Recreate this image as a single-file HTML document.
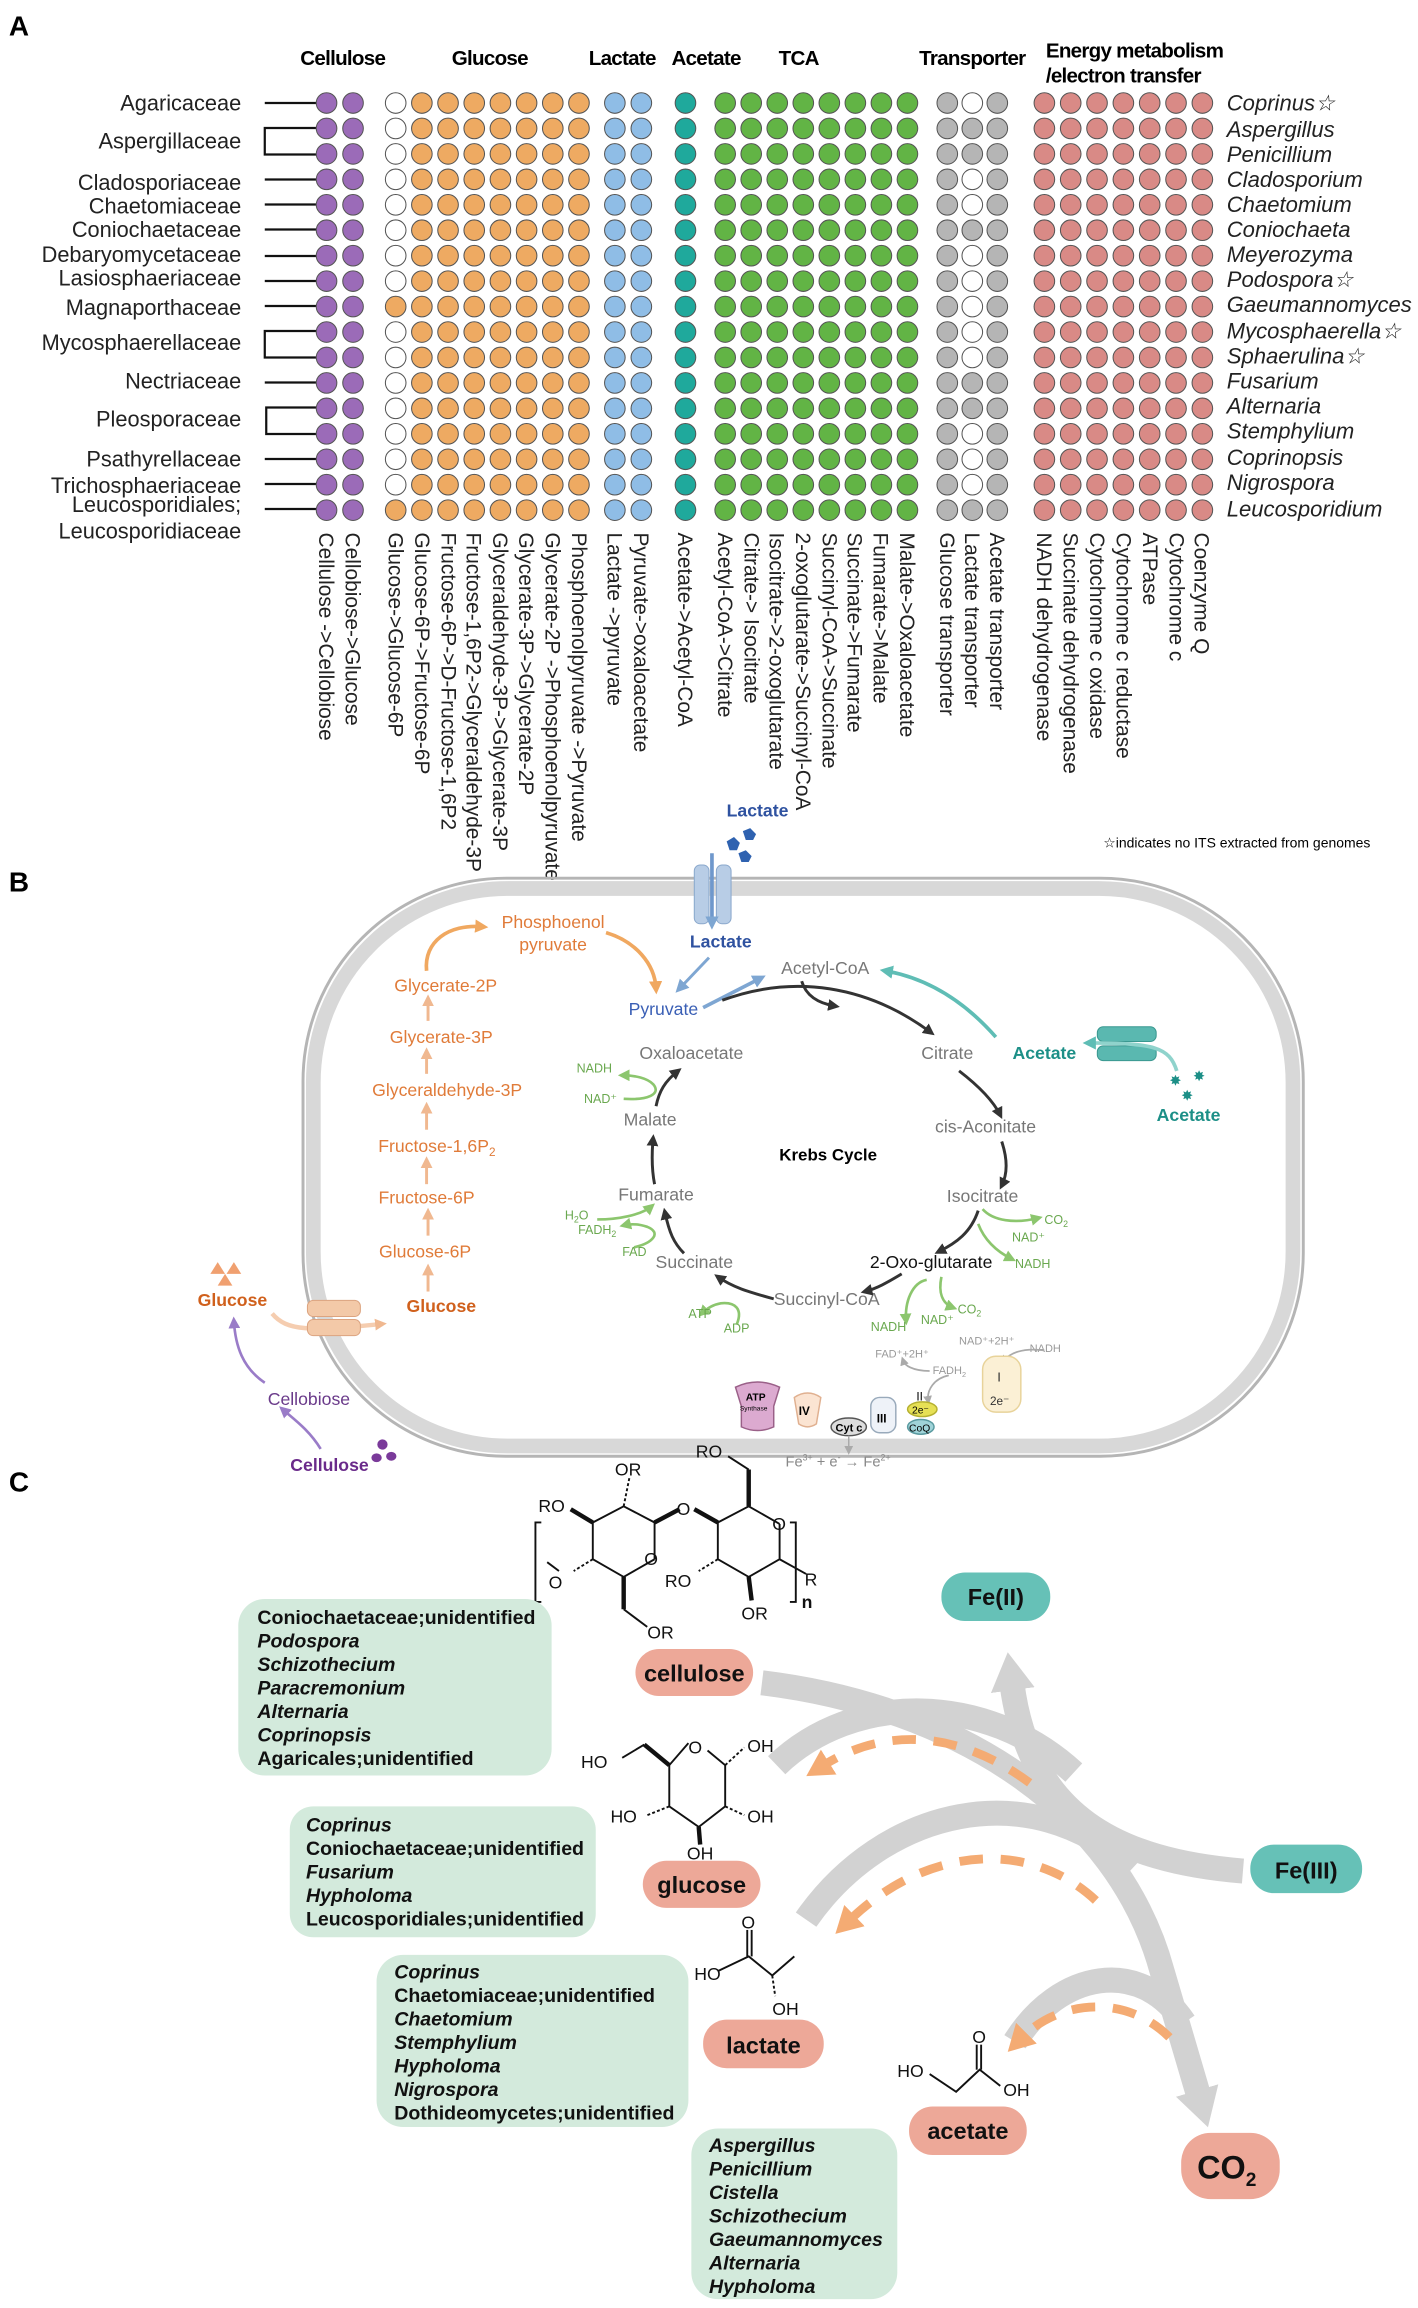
<!DOCTYPE html>
<html><head><meta charset="utf-8"><style>
html,body{margin:0;padding:0;background:#fff}
svg{display:block}
text{font-family:"Liberation Sans",Arial,sans-serif}
</style></head><body>
<svg width="1418" height="2308" viewBox="0 0 964 1569" xmlns="http://www.w3.org/2000/svg">
<defs>
<marker id="ad" markerWidth="8" markerHeight="8" refX="5" refY="4" orient="auto" markerUnits="userSpaceOnUse"><path d="M0,0 L8,4 L0,8 Z" fill="#333"/></marker>
<marker id="ag" markerWidth="8" markerHeight="8" refX="5" refY="4" orient="auto" markerUnits="userSpaceOnUse"><path d="M0,0 L8,4 L0,8 Z" fill="#8cc66e"/></marker>
<marker id="ao" markerWidth="9" markerHeight="9" refX="5" refY="4.5" orient="auto" markerUnits="userSpaceOnUse"><path d="M0,0 L9,4.5 L0,9 Z" fill="#f0a860"/></marker>
<marker id="al" markerWidth="8" markerHeight="8" refX="5" refY="4" orient="auto" markerUnits="userSpaceOnUse"><path d="M0,0 L8,4 L0,8 Z" fill="#f0b890"/></marker>
<marker id="ab" markerWidth="9" markerHeight="9" refX="5" refY="4.5" orient="auto" markerUnits="userSpaceOnUse"><path d="M0,0 L9,4.5 L0,9 Z" fill="#7ea6d2"/></marker>
<marker id="at" markerWidth="9" markerHeight="9" refX="5" refY="4.5" orient="auto" markerUnits="userSpaceOnUse"><path d="M0,0 L9,4.5 L0,9 Z" fill="#5fbdb5"/></marker>
<marker id="ap" markerWidth="8" markerHeight="8" refX="5" refY="4" orient="auto" markerUnits="userSpaceOnUse"><path d="M0,0 L8,4 L0,8 Z" fill="#9a7cc8"/></marker>
<marker id="ay" markerWidth="6" markerHeight="6" refX="3" refY="3" orient="auto" markerUnits="userSpaceOnUse"><path d="M0,0 L6,3 L0,6 Z" fill="#aaa"/></marker>
<marker id="aG" markerWidth="30" markerHeight="30" refX="4" refY="15" orient="auto" markerUnits="userSpaceOnUse"><path d="M0,0 L26,15 L0,30 Z" fill="#d2d2d2"/></marker>
<marker id="aO" markerWidth="20" markerHeight="20" refX="4" refY="10" orient="auto" markerUnits="userSpaceOnUse"><path d="M0,0 L18,10 L0,20 Z" fill="#f4ab73"/></marker>
</defs>

<!-- PANEL A -->
<text x="6" y="24" font-size="19" font-weight="bold">A</text>
<g font-size="14" font-weight="bold" text-anchor="middle" letter-spacing="-0.5">
<text x="233" y="44">Cellulose</text><text x="333" y="44">Glucose</text><text x="423" y="44">Lactate</text><text x="480" y="44">Acetate</text><text x="543" y="44">TCA</text><text x="661" y="44">Transporter</text>
<text x="711" y="39" text-anchor="start">Energy metabolism</text><text x="711" y="56" text-anchor="start">/electron transfer</text>
</g>
<g font-size="14.8" text-anchor="end" fill="#222">
<text x="164" y="75">Agaricaceae</text>
<text x="164" y="101">Aspergillaceae</text>
<text x="164" y="129">Cladosporiaceae</text>
<text x="164" y="145">Chaetomiaceae</text>
<text x="164" y="161">Coniochaetaceae</text>
<text x="164" y="178">Debaryomycetaceae</text>
<text x="164" y="194">Lasiosphaeriaceae</text>
<text x="164" y="214">Magnaporthaceae</text>
<text x="164" y="238">Mycosphaerellaceae</text>
<text x="164" y="264">Nectriaceae</text>
<text x="164" y="290">Pleosporaceae</text>
<text x="164" y="317">Psathyrellaceae</text>
<text x="164" y="335">Trichosphaeriaceae</text>
<text x="164" y="348">Leucosporidiales;</text>
<text x="164" y="366">Leucosporidiaceae</text>
</g>
<g stroke="#111" stroke-width="1.5" fill="none">
<line x1="180" y1="70" x2="215" y2="70"/>
<path d="M215,87 H180 V105 H215"/>
<line x1="180" y1="122" x2="215" y2="122"/><line x1="180" y1="139" x2="215" y2="139"/><line x1="180" y1="156" x2="215" y2="156"/><line x1="180" y1="174" x2="215" y2="174"/><line x1="180" y1="191" x2="215" y2="191"/><line x1="180" y1="208" x2="215" y2="208"/>
<path d="M215,225 H180 V243 H215"/>
<line x1="180" y1="260" x2="215" y2="260"/>
<path d="M215,277 H181 V295 H215"/>
<line x1="180" y1="312" x2="215" y2="312"/><line x1="180" y1="329" x2="215" y2="329"/><line x1="180" y1="346" x2="215" y2="346"/>
</g>
<g id="dots" stroke="#555" stroke-width="0.7"></g>
<g font-size="15" font-style="italic" fill="#222">
<text x="834" y="75">Coprinus☆</text><text x="834" y="93">Aspergillus</text><text x="834" y="110">Penicillium</text><text x="834" y="127">Cladosporium</text><text x="834" y="144">Chaetomium</text><text x="834" y="161">Coniochaeta</text><text x="834" y="178">Meyerozyma</text><text x="834" y="195">Podospora☆</text><text x="834" y="212">Gaeumannomyces</text><text x="834" y="230">Mycosphaerella☆</text><text x="834" y="247">Sphaerulina☆</text><text x="834" y="264">Fusarium</text><text x="834" y="281">Alternaria</text><text x="834" y="298">Stemphylium</text><text x="834" y="316">Coprinopsis</text><text x="834" y="333">Nigrospora</text><text x="834" y="351">Leucosporidium</text>
</g>
<g id="vlabels" font-size="14.2" fill="#222"></g>
<text x="750" y="576" font-size="9.5">☆indicates no ITS extracted from genomes</text>

<!-- PANEL B -->
<text x="6" y="606" font-size="19" font-weight="bold">B</text>
<rect x="206" y="597" width="680" height="393" rx="138" fill="none" stroke="#b5b5b5" stroke-width="2"/>
<rect x="213" y="604" width="666" height="379" rx="132" fill="none" stroke="#d8d8d8" stroke-width="10"/>
<g font-size="12" fill="#e07b39" text-anchor="middle">
<text x="376" y="631">Phosphoenol</text><text x="376" y="646">pyruvate</text>
<text x="303" y="674">Glycerate-2P</text><text x="300" y="709">Glycerate-3P</text><text x="304" y="745">Glyceraldehyde-3P</text>
<text x="297" y="783">Fructose-1,6P<tspan font-size="8" dy="3">2</tspan></text>
<text x="290" y="818">Fructose-6P</text><text x="289" y="855">Glucose-6P</text>
<text x="300" y="892" font-weight="bold" fill="#d0601c">Glucose</text>
</g>
<g stroke="#f0b890" stroke-width="2" fill="none" marker-end="url(#al)">
<line x1="291" y1="878" x2="291" y2="862"/><line x1="291" y1="840" x2="291" y2="824"/><line x1="290" y1="805" x2="290" y2="789"/><line x1="290" y1="768" x2="290" y2="752"/><line x1="290" y1="730" x2="290" y2="715"/><line x1="291" y1="694" x2="291" y2="679"/>
</g>
<path d="M290,660 C288,640 305,628 328,630" stroke="#f0a860" stroke-width="2.5" fill="none" marker-end="url(#ao)"/>
<path d="M412,634 C432,640 445,655 446,672" stroke="#f0a860" stroke-width="2.5" fill="none" marker-end="url(#ao)"/>
<text x="515" y="555" font-size="12" font-weight="bold" fill="#2f52a0" text-anchor="middle">Lactate</text>
<g fill="#2f62b0"><polygon points="494,572 499,569 503,573 501,578 496,578"/><polygon points="505,565 510,563 514,567 512,571 507,571"/><polygon points="502,580 507,578 511,582 509,586 504,586"/></g>
<rect x="472" y="588" width="10" height="40" rx="4" fill="#b8cde6" stroke="#8aa8cc" stroke-width="0.7"/>
<rect x="487" y="588" width="10" height="40" rx="4" fill="#b8cde6" stroke="#8aa8cc" stroke-width="0.7"/>
<line x1="484" y1="580" x2="484" y2="628" stroke="#6f98cc" stroke-width="2.5" marker-end="url(#ab)"/>
<text x="490" y="644" font-size="12" font-weight="bold" fill="#2f52a0" text-anchor="middle">Lactate</text>
<line x1="482" y1="651" x2="462" y2="672" stroke="#7ea6d2" stroke-width="2" marker-end="url(#ab)"/>
<line x1="478" y1="685" x2="517" y2="665" stroke="#7ea6d2" stroke-width="2.5" marker-end="url(#ab)"/>
<text x="451" y="690" font-size="12" fill="#3a5fb5" text-anchor="middle">Pyruvate</text>
<g font-size="12" fill="#777" text-anchor="middle">
<text x="561" y="662">Acetyl-CoA</text><text x="470" y="720">Oxaloacetate</text><text x="644" y="720">Citrate</text><text x="670" y="770">cis-Aconitate</text><text x="668" y="817">Isocitrate</text><text x="633" y="862" fill="#111">2-Oxo-glutarate</text><text x="562" y="887">Succinyl-CoA</text><text x="472" y="862">Succinate</text><text x="446" y="816">Fumarate</text><text x="442" y="765">Malate</text>
</g>
<text x="563" y="789" font-size="11.5" font-weight="bold" text-anchor="middle">Krebs Cycle</text>
<g stroke="#333" stroke-width="2" fill="none" marker-end="url(#ad)">
<path d="M491,680 C540,662 590,670 633,702"/>
<path d="M545,667 C548,677 556,682 568,684"/>
<path d="M652,728 C665,738 675,748 680,758"/>
<path d="M681,776 C685,788 685,798 681,806"/>
<path d="M665,823 C660,838 650,845 638,851"/>
<path d="M613,866 C603,872 596,876 588,878"/>
<path d="M526,883 C508,878 498,875 488,868"/>
<path d="M465,852 C458,845 455,838 452,824"/>
<path d="M445,805 C443,795 443,785 444,774"/>
<path d="M446,752 C448,742 452,735 461,728"/>
</g>
<g stroke="#8cc66e" stroke-width="1.8" fill="none" marker-end="url(#ag)">
<path d="M424,747 C440,748 450,744 444,737 C440,733 432,731 423,731"/>
<path d="M406,829 C420,829 436,826 443,820"/>
<path d="M431,848 C444,845 450,838 440,834 C434,832 428,832 424,833"/>
<path d="M501,900 C505,890 500,885 490,886 C484,887 480,890 477,893"/>
<path d="M668,822 C675,830 690,832 706,828"/>
<path d="M665,832 C670,845 680,852 688,856"/>
<path d="M640,868 C638,878 640,886 648,889"/>
<path d="M630,870 C620,872 615,885 616,898"/>
</g>
<g font-size="8.5" fill="#6aa84f">
<text x="392" y="729">NADH</text><text x="397" y="750">NAD⁺</text><text x="384" y="829">H<tspan font-size="6" dy="2">2</tspan><tspan dy="-2">O</tspan></text>
<text x="393" y="839">FADH<tspan font-size="6" dy="2">2</tspan></text><text x="423" y="854">FAD</text><text x="468" y="896">ATP</text><text x="492" y="906">ADP</text>
<text x="710" y="832">CO<tspan font-size="6" dy="2">2</tspan></text><text x="688" y="844">NAD⁺</text><text x="690" y="862">NADH</text>
<text x="651" y="893">CO<tspan font-size="6" dy="2">2</tspan></text><text x="626" y="900">NAD⁺</text><text x="592" y="905">NADH</text>
</g>
<path d="M677,705 C655,680 630,665 602,660" stroke="#5fbdb5" stroke-width="2.5" fill="none" marker-end="url(#at)"/>
<text x="710" y="720" font-size="12" font-weight="bold" fill="#1c8f87" text-anchor="middle">Acetate</text>
<rect x="746" y="698" width="40" height="10" rx="4" fill="#5ab8b0" stroke="#3a9890" stroke-width="0.7"/>
<rect x="746" y="711" width="40" height="10" rx="4" fill="#5ab8b0" stroke="#3a9890" stroke-width="0.7"/>
<path d="M800,728 C795,712 785,709 740,709" stroke="#8fd3cc" stroke-width="2.5" fill="none" marker-end="url(#at)"/>
<g fill="#1c8f87" font-size="10"><text x="795" y="738">✸</text><text x="811" y="735">✸</text><text x="803" y="748">✸</text></g>
<text x="808" y="762" font-size="12" font-weight="bold" fill="#1c8f87" text-anchor="middle">Acetate</text>
<g font-size="7.5" fill="#999">
<text x="595" y="923">FAD⁺+2H⁺</text><text x="652" y="914">NAD⁺+2H⁺</text><text x="700" y="919">NADH</text><text x="634" y="934">FADH<tspan font-size="5" dy="2">2</tspan></text>
</g>
<g stroke="#aaa" stroke-width="1.2" fill="none" marker-end="url(#ay)">
<path d="M632,932 C620,932 615,928 614,925"/><path d="M645,935 C635,937 630,945 631,952"/>
<path d="M710,918 C695,916 686,920 683,925"/><path d="M680,930 C672,932 672,945 680,950"/>
</g>
<rect x="668" y="922" width="26" height="38" rx="9" fill="#fbf0d5" stroke="#e8d39a"/>
<text x="678" y="939" font-size="9" fill="#333">I</text><text x="673" y="955" font-size="8" fill="#333">2e⁻</text>
<ellipse cx="627" cy="958" rx="10" ry="5" fill="#e6e055" stroke="#b5b030"/><text x="620" y="961" font-size="7">2e⁻</text>
<text x="623" y="952" font-size="8">II</text>
<ellipse cx="626" cy="970" rx="9" ry="5" fill="#9fd3d8" stroke="#5a9aa0"/><text x="618" y="973" font-size="7">CoQ</text>
<rect x="592" y="950" width="17" height="24" rx="6" fill="#eef2f8" stroke="#9ab"/><text x="596" y="967" font-size="8" font-weight="bold">III</text>
<ellipse cx="577" cy="970" rx="12" ry="6" fill="#ddd" stroke="#555"/><text x="568" y="973" font-size="7.5" font-weight="bold">Cyt c</text>
<path d="M540,950 Q549,944 558,950 L555,968 Q549,972 543,968 Z" fill="#fbe4d2" stroke="#e0b090"/><text x="543" y="962" font-size="8" font-weight="bold">IV</text>
<path d="M500,943 Q515,936 530,943 L526,956 L526,970 Q515,975 504,970 L504,956 Z" fill="#dcaad0" stroke="#9a6088"/>
<text x="507" y="952" font-size="7" font-weight="bold">ATP</text><text x="503" y="959" font-size="4.5">Synthase</text>
<text x="534" y="997" font-size="10" fill="#888">Fe<tspan font-size="6" dy="-4">3+</tspan><tspan dy="4"> + e</tspan><tspan font-size="6" dy="-4">-</tspan><tspan dy="4"> → Fe</tspan><tspan font-size="6" dy="-4">2+</tspan></text>
<line x1="577" y1="976" x2="577" y2="986" stroke="#aaa" stroke-width="1" marker-end="url(#ay)"/>
<g fill="#f0a070"><polygon points="143,866 148,858 153,866"/><polygon points="154,866 159,858 164,866"/><polygon points="148,874 153,866 158,874"/></g>
<text x="158" y="888" font-size="12" font-weight="bold" fill="#d0601c" text-anchor="middle">Glucose</text>
<path d="M185,893 C195,905 210,905 260,900" stroke="#f5cdb0" stroke-width="3" fill="none" marker-end="url(#al)"/>
<rect x="209" y="884" width="36" height="11" rx="4" fill="#f3c9a8" stroke="#dca480" stroke-width="0.7"/>
<rect x="209" y="897" width="36" height="11" rx="4" fill="#f3c9a8" stroke="#dca480" stroke-width="0.7"/>
<text x="210" y="955" font-size="12" fill="#6a3a8a" text-anchor="middle">Cellobiose</text>
<text x="224" y="1000" font-size="12" font-weight="bold" fill="#6a2a8a" text-anchor="middle">Cellulose</text>
<g fill="#7a3a9a"><circle cx="260" cy="982" r="3.5"/><ellipse cx="256" cy="991" rx="3.5" ry="3"/><ellipse cx="266" cy="990" rx="3.5" ry="3"/></g>
<path d="M218,985 C210,972 200,965 192,958" stroke="#9a7cc8" stroke-width="1.8" fill="none" marker-end="url(#ap)"/>
<path d="M180,940 C165,930 160,915 159,898" stroke="#9a7cc8" stroke-width="1.8" fill="none" marker-end="url(#ap)"/>

<!-- PANEL C -->
<text x="6" y="1014" font-size="19" font-weight="bold">C</text>
<g stroke="#111" stroke-width="1.3" fill="none">
<polyline points="445,1060 445,1035 424,1024 403,1035 403,1060 424,1072 445,1060"/>
<polyline points="530,1036 509,1024 488,1035 488,1060 509,1072 530,1060 530,1036"/>
<path d="M368,1035 h-4 v54 h4"/><path d="M537,1035 h4 v54 h-4"/>
<line x1="424" y1="1024" x2="428" y2="1004" stroke-dasharray="2,1.5"/>
<line x1="445" y1="1035" x2="462" y2="1026" stroke-width="3"/>
<line x1="472" y1="1026" x2="488" y2="1035" stroke-width="3"/>
<line x1="403" y1="1035" x2="388" y2="1026" stroke-width="3"/>
<line x1="424" y1="1072" x2="424" y2="1094" stroke-width="3"/><line x1="424" y1="1094" x2="440" y2="1106"/>
<line x1="509" y1="1024" x2="509" y2="999" stroke-width="3"/><line x1="509" y1="999" x2="495" y2="990"/>
<line x1="509" y1="1072" x2="511" y2="1088" stroke-width="3"/>
<line x1="488" y1="1060" x2="475" y2="1068" stroke-dasharray="2,1.5"/>
<line x1="403" y1="1060" x2="390" y2="1068" stroke-dasharray="2,1.5"/>
<line x1="530" y1="1060" x2="548" y2="1070"/><line x1="372" y1="1062" x2="380" y2="1068"/>
</g>
<g font-size="12" fill="#111">
<text x="366" y="1028">RO</text><text x="418" y="1003">OR</text><text x="460" y="1030">O</text><text x="438" y="1064">O</text><text x="525" y="1040">O</text><text x="473" y="991">RO</text><text x="452" y="1079">RO</text><text x="504" y="1101">OR</text><text x="440" y="1114">OR</text><text x="373" y="1080">O</text><text x="547" y="1078">R</text><text x="545" y="1093" font-weight="bold">n</text>
</g>
<g fill="#d3eadc">
<rect x="162" y="1087" width="213" height="120" rx="18"/>
<rect x="197" y="1228" width="208" height="89" rx="16"/>
<rect x="256" y="1329" width="212" height="117" rx="18"/>
<rect x="470" y="1447" width="140" height="116" rx="18"/>
</g>
<g font-size="13.3" font-weight="bold" fill="#111">
<text x="175" y="1104">Coniochaetaceae;unidentified</text><text x="175" y="1120" font-style="italic">Podospora</text><text x="175" y="1136" font-style="italic">Schizothecium</text><text x="175" y="1152" font-style="italic">Paracremonium</text><text x="175" y="1168" font-style="italic">Alternaria</text><text x="175" y="1184" font-style="italic">Coprinopsis</text><text x="175" y="1200">Agaricales;unidentified</text>
<text x="208" y="1245" font-style="italic">Coprinus</text><text x="208" y="1261">Coniochaetaceae;unidentified</text><text x="208" y="1277" font-style="italic">Fusarium</text><text x="208" y="1293" font-style="italic">Hypholoma</text><text x="208" y="1309">Leucosporidiales;unidentified</text>
<text x="268" y="1345" font-style="italic">Coprinus</text><text x="268" y="1361">Chaetomiaceae;unidentified</text><text x="268" y="1377" font-style="italic">Chaetomium</text><text x="268" y="1393" font-style="italic">Stemphylium</text><text x="268" y="1409" font-style="italic">Hypholoma</text><text x="268" y="1425" font-style="italic">Nigrospora</text><text x="268" y="1441">Dothideomycetes;unidentified</text>
<g font-style="italic"><text x="482" y="1463">Aspergillus</text><text x="482" y="1479">Penicillium</text><text x="482" y="1495">Cistella</text><text x="482" y="1511">Schizothecium</text><text x="482" y="1527">Gaeumannomyces</text><text x="482" y="1543">Alternaria</text><text x="482" y="1559">Hypholoma</text></g>
</g>
<g stroke="#d2d2d2" stroke-width="17" fill="none">
<path d="M518,1144 C650,1160 760,1230 790,1340 L815,1425" marker-end="url(#aG)"/>
<path d="M845,1272 C760,1265 700,1235 688,1145" marker-end="url(#aG)"/>
<path d="M528,1200 C580,1150 670,1150 730,1205"/>
<path d="M548,1305 C600,1230 700,1205 770,1270"/>
<path d="M690,1388 C720,1340 775,1330 805,1375"/>
</g>
<g stroke="#f4ab73" stroke-width="6" fill="none" stroke-dasharray="16,12">
<path d="M700,1212 C650,1175 600,1175 560,1200" marker-end="url(#aO)"/>
<path d="M745,1292 C700,1250 630,1255 578,1305" marker-end="url(#aO)"/>
<path d="M795,1385 C765,1355 720,1360 695,1385" marker-end="url(#aO)"/>
</g>
<g stroke="#111" stroke-width="1.3" fill="none">
<polyline points="468,1185 455,1200 455,1228 475,1242 493,1228 493,1200 481,1190"/>
<line x1="455" y1="1200" x2="438" y2="1186" stroke-width="3"/><line x1="438" y1="1186" x2="423" y2="1195"/>
<line x1="493" y1="1200" x2="506" y2="1188" stroke-dasharray="2,1.5"/>
<line x1="455" y1="1228" x2="440" y2="1234" stroke-dasharray="2,1.5"/>
<line x1="493" y1="1228" x2="506" y2="1234" stroke-dasharray="2,1.5"/>
<line x1="475" y1="1242" x2="476" y2="1254" stroke-width="3"/>
</g>
<g font-size="12" fill="#111"><text x="468" y="1192">O</text><text x="395" y="1202">HO</text><text x="508" y="1191">OH</text><text x="415" y="1239">HO</text><text x="508" y="1239">OH</text><text x="467" y="1264">OH</text></g>
<g stroke="#111" stroke-width="1.3" fill="none">
<line x1="508" y1="1312" x2="508" y2="1330"/><line x1="511" y1="1312" x2="511" y2="1330"/>
<polyline points="488,1340 509,1330 525,1343 540,1330"/>
<line x1="525" y1="1343" x2="527" y2="1357" stroke-dasharray="2,1.5"/>
</g>
<g font-size="12" fill="#111"><text x="504" y="1311">O</text><text x="472" y="1346">HO</text><text x="525" y="1370">OH</text></g>
<g stroke="#111" stroke-width="1.3" fill="none">
<line x1="664" y1="1390" x2="664" y2="1407"/><line x1="667" y1="1390" x2="667" y2="1407"/>
<polyline points="632,1410 650,1422 666,1407 680,1418"/>
</g>
<g font-size="12" fill="#111"><text x="661" y="1389">O</text><text x="610" y="1412">HO</text><text x="682" y="1425">OH</text></g>
<g fill="#eda898">
<rect x="432" y="1121" width="80" height="32" rx="16"/><rect x="437" y="1265" width="80" height="32" rx="16"/><rect x="478" y="1373" width="82" height="33" rx="16"/><rect x="618" y="1432" width="80" height="33" rx="16"/><rect x="803" y="1450" width="67" height="45" rx="20"/>
</g>
<g fill="#66c1b7"><rect x="640" y="1069" width="74" height="33" rx="16"/><rect x="850" y="1254" width="76" height="33" rx="16"/></g>
<g font-size="16" font-weight="bold" fill="#111" text-anchor="middle">
<text x="472" y="1143">cellulose</text><text x="477" y="1287">glucose</text><text x="519" y="1396">lactate</text><text x="658" y="1454">acetate</text>
<text x="677" y="1091">Fe(II)</text><text x="888" y="1277">Fe(III)</text>
<text x="834" y="1481" font-size="22">CO<tspan font-size="13" dy="5">2</tspan></text>
</g>
</svg>
<script>
(function(){
var NS="http://www.w3.org/2000/svg";
var g=document.getElementById('dots');
function c(x,y,f){var e=document.createElementNS(NS,'circle');e.setAttribute('cx',x);e.setAttribute('cy',y);e.setAttribute('r',7);e.setAttribute('fill',f);g.appendChild(e);}
var tw="wggwwgwwwwwggwwwg".split('');
for(var i=0;i<17;i++){
 var y=70+17.3*i;
 c(222,y,'#9b6bb8');c(240,y,'#9b6bb8');
 for(var k=0;k<8;k++){var f='#eeaa62';if(k==0&&i!=8&&i!=16)f='#fff';c(269+17.8*k,y,f);}
 c(418,y,'#8fbde6');c(436,y,'#8fbde6');
 c(466,y,'#1fa99c');
 for(var k=0;k<8;k++)c(493+17.7*k,y,'#62b445');
 c(644,y,'#b5b5b5');c(661,y,tw[i]=='w'?'#fff':'#b5b5b5');c(678,y,'#b5b5b5');
 for(var k=0;k<7;k++)c(710+17.9*k,y,'#d98a86');
}
var L=[[222,"Cellulose ->Cellobiose"],[240,"Cellobiose->Glucose"],[269,"Glucose->Glucose-6P"],[287,"Glucose-6P->Fructose-6P"],[305,"Fructose-6P->D-Fructose-1,6P2"],[322,"Fructose-1,6P2->Glyceraldehyde-3P"],[340,"Glyceraldehyde-3P->Glycerate-3P"],[358,"Glycerate-3P->Glycerate-2P"],[376,"Glycerate-2P ->Phosphoenolpyruvate"],[394,"Phosphoenolpyruvate ->Pyruvate"],[418,"Lactate ->pyruvate"],[436,"Pyruvate->oxaloacetate"],[466,"Acetate->Acetyl-CoA"],[493,"Acetyl-CoA->Citrate"],[511,"Citrate-> Isocitrate"],[528,"Isocitrate->2-oxoglutarate"],[546,"2-oxoglutarate->Succinyl-CoA"],[564,"Succinyl-CoA->Succinate"],[581,"Succinate->Fumarate"],[599,"Fumarate->Malate"],[617,"Malate->Oxaloacetate"],[644,"Glucose transporter"],[661,"Lactate transporter"],[678,"Acetate transporter"],[710,"NADH dehydrogenase"],[728,"Succinate dehydrogenase"],[746,"Cytochrome c oxidase"],[764,"Cytochrome c reductase"],[782,"ATPase"],[800,"Cytochrome c"],[817,"Coenzyme Q"]];
var v=document.getElementById('vlabels');
L.forEach(function(a){var t=document.createElementNS(NS,'text');var x=a[0]-5;t.setAttribute('x',x);t.setAttribute('y',362);t.setAttribute('transform','rotate(90 '+x+' 362)');t.textContent=a[1];v.appendChild(t);});
})();
</script>
</body></html>
